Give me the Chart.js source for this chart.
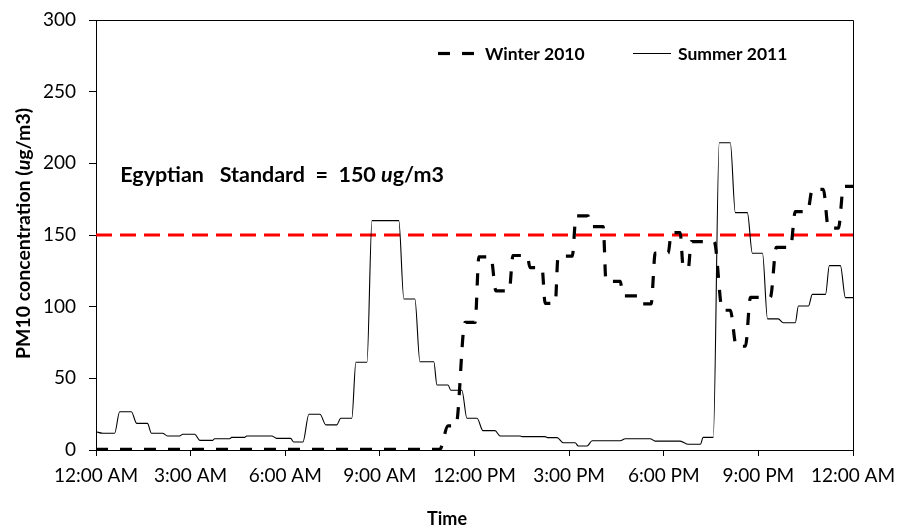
<!DOCTYPE html>
<html>
<head>
<meta charset="utf-8">
<script src="https://cdn.jsdelivr.net/npm/chart.js@4.4.1/dist/chart.umd.min.js"></script>
<style>
  html, body { margin: 0; padding: 0; background: #ffffff; }
  #wrap { width: 899px; height: 530px; position: relative; }
</style>
</head>
<body>
<div id="wrap"><canvas id="c" width="899" height="530"></canvas></div>
<script>
// ---- data ----
const xTickLabels = ['12:00 AM','3:00 AM','6:00 AM','9:00 AM','12:00 PM','3:00 PM','6:00 PM','9:00 PM','12:00 AM'];
const yTickValues = [0, 50, 100, 150, 200, 250, 300];

// hours since midnight
const winterHours = [0, 10.9, 11.16, 11.41, 11.70, 12.02, 12.14, 12.52, 12.68, 13.10, 13.22, 13.67, 13.76, 14.14,
  14.24, 14.56, 14.65, 15.10, 15.22, 15.60, 15.70, 16.08, 16.17, 16.62, 16.71, 17.16, 17.25, 17.60, 17.73, 18.14,
  18.24, 18.52, 18.62, 18.78, 18.87, 19.60, 19.86, 20.11, 20.30, 20.59, 20.75, 21.38, 21.57, 22.02, 22.17, 22.56,
  22.71, 23.06, 23.22, 23.54, 23.70, 24];
const winterValues = [0.5, 0.5, 16.8, 16.8, 89, 89, 134.7, 134.7, 111, 111, 135.7, 135.7, 127.2, 127.2,
  102.3, 102.3, 135.2, 135.2, 163.3, 163.3, 155.8, 155.8, 117.6, 117.6, 107.5, 107.5, 101.9, 101.9, 137.3, 137.3,
  151.7, 151.7, 127.2, 127.2, 145.4, 145.4, 97.5, 97.5, 72.4, 72.4, 106.5, 106.5, 141.4, 141.4, 166.3, 166.3,
  181.9, 181.9, 154.8, 154.8, 183.9, 183.9];

const summerHours = [0, 0.21, 0.59, 0.75, 1.12, 1.29, 1.63, 1.76, 2.11, 2.27, 2.65, 2.75, 3.13, 3.29, 3.70, 3.76, 4.24,
  4.30, 4.71, 4.78, 5.57, 5.73, 6.17, 6.27, 6.56, 6.75, 7.10, 7.29, 7.63, 7.76, 8.11, 8.24, 8.59, 8.75, 9.60, 9.76,
  10.11, 10.27, 10.71, 10.81, 11.16, 11.25, 11.60, 11.76, 12.08, 12.27, 12.65, 12.81, 13.44, 13.51, 14.24, 14.33,
  14.62, 14.81, 15.19, 15.29, 15.57, 15.73, 16.62, 16.78, 17.57, 17.73, 18.52, 18.78, 19.16, 19.25, 19.57, 19.76,
  20.11, 20.27, 20.65, 20.81, 21.13, 21.29, 21.63, 21.79, 22.17, 22.27, 22.59, 22.71, 23.13, 23.25, 23.60, 23.76, 24];
const summerValues = [12.7, 11.7, 11.7, 26.7, 26.7, 18.6, 18.6, 11.7, 11.7, 9.8, 9.8, 11, 11, 6.7, 6.7, 7.9, 7.9,
  8.8, 8.8, 9.8, 9.8, 8.1, 8.1, 5.6, 5.6, 24.9, 24.9, 17.5, 17.5, 22.1, 22.1, 61.2, 61.2, 160, 160, 105.4,
  105.4, 61.6, 61.6, 45.3, 45.3, 41.7, 41.7, 22.1, 22.1, 13.5, 13.5, 9.8, 9.8, 9.3, 9.3, 8.6,
  8.6, 5.1, 5.1, 2.8, 2.8, 6.5, 6.5, 7.9, 7.9, 6.2, 6.2, 4.0, 4.0, 8.8, 8.8, 214.4,
  214.4, 165.6, 165.6, 137.3, 137.3, 91.5, 91.5, 88.8, 88.8, 100.5, 100.5, 108.6, 108.6, 128.6, 128.6, 106.3, 106.3];

const standardHours = [0, 24];
const standardValues = [150, 150];

const seriesNames = ['Winter 2010', 'Summer 2011'];
const annotationText = [['Egyptian   Standard  =  150 ', false], ['u', true], ['g/m3', false]];
const yTitleText = [['PM10 concentration (', false], ['u', true], ['g/m3)', false]];
const xTitleText = 'Time';

// ---- helpers ----
const pts = (xs, ys) => xs.map((x, i) => ({ x: x, y: ys[i] }));
const FONT = 'Lato, "Open Sans", sans-serif';

function runsWidth(ctx, runs, size) {
  let w = 0;
  runs.forEach(([t, it]) => { ctx.font = (it ? 'italic ' : '') + 'bold ' + size + 'px ' + FONT; w += ctx.measureText(t).width; });
  return w;
}
function drawRuns(ctx, runs, x, y, size) {
  let cx = x;
  runs.forEach(([t, it]) => {
    ctx.font = (it ? 'italic ' : '') + 'bold ' + size + 'px ' + FONT;
    ctx.fillText(t, cx, y);
    cx += ctx.measureText(t).width;
  });
}

const overlay = {
  id: 'overlay',
  afterDraw(chart) {
    const { ctx, chartArea: a, scales } = chart;
    ctx.save();
    // frame top & right
    ctx.strokeStyle = '#000';
    ctx.lineWidth = 1;
    ctx.beginPath();
    ctx.moveTo(Math.round(a.left) + 0.5, Math.round(a.top) + 0.5);
    ctx.lineTo(Math.round(a.right) + 0.5, Math.round(a.top) + 0.5);
    ctx.lineTo(Math.round(a.right) + 0.5, Math.round(a.bottom) + 0.5);
    ctx.stroke();

    ctx.fillStyle = '#000';
    ctx.textBaseline = 'alphabetic';
    ctx.textAlign = 'left';

    // annotation text anchored to data coordinates
    const ax = scales.x.getPixelForValue(0.77);
    const ay = scales.y.getPixelForValue(187);
    drawRuns(ctx, annotationText, ax, ay, 21.5);

    // legend
    const ds = chart.data.datasets;
    const legendItems = [
      { d: ds[0], x0: 438, x1: 477, tx: 485 },
      { d: ds[1], x0: 633, x1: 671, tx: 678 }
    ];
    legendItems.forEach(it => {
      ctx.save();
      ctx.strokeStyle = it.d.borderColor;
      ctx.lineWidth = it.d.borderWidth;
      ctx.setLineDash(it.d.borderDash || []);
      ctx.beginPath();
      ctx.moveTo(it.x0, 53.5);
      ctx.lineTo(it.x1, 53.5);
      ctx.stroke();
      ctx.restore();
      ctx.font = 'bold 17.5px ' + FONT;
      ctx.fillText(it.d.label, it.tx, 59.5);
    });

    // y axis title (rotated)
    ctx.save();
    const yc = (a.top + a.bottom) / 2 - 1.5;
    ctx.translate(30, yc);
    ctx.rotate(-Math.PI / 2);
    const tw = runsWidth(ctx, yTitleText, 19.5);
    drawRuns(ctx, yTitleText, -tw / 2, 0, 19.5);
    ctx.restore();

    // x axis title
    ctx.font = 'bold 18px ' + FONT;
    ctx.textAlign = 'center';
    ctx.fillText(xTitleText, 447, 525);
    ctx.restore();
  }
};

new Chart(document.getElementById('c'), {
  type: 'line',
  data: {
    datasets: [
      {
        label: seriesNames[0],
        data: pts(winterHours, winterValues),
        borderColor: '#000000',
        borderWidth: 3.2,
        borderDash: [12, 12],
        pointRadius: 0,
        cubicInterpolationMode: 'monotone',
        fill: false
      },
      {
        label: seriesNames[1],
        data: pts(summerHours, summerValues),
        borderColor: '#000000',
        borderWidth: 1.1,
        pointRadius: 0,
        cubicInterpolationMode: 'monotone',
        fill: false
      },
      {
        label: 'standard',
        data: pts(standardHours, standardValues),
        borderColor: '#ff0000',
        borderWidth: 3,
        borderDash: [16, 8],
        pointRadius: 0,
        fill: false
      }
    ]
  },
  options: {
    responsive: false,
    animation: false,
    devicePixelRatio: 1,
    layout: { padding: { top: 20, right: 46, bottom: 0, left: 0 } },
    plugins: { legend: { display: false }, tooltip: { enabled: false }, title: { display: false } },
    scales: {
      x: {
        type: 'linear',
        min: 0, max: 24,
        afterFit: s => { s.height = 80; s.paddingLeft = 0; s.paddingRight = 0; },
        afterBuildTicks: s => { s.ticks = xTickLabels.map((_, i) => ({ value: i * 3 })); },
        ticks: {
          autoSkip: false, maxRotation: 0,
          callback: (v, i) => xTickLabels[i],
          color: '#000', padding: 8,
          font: { family: FONT, size: 19 }
        },
        grid: { drawOnChartArea: false, drawTicks: true, tickLength: 6, color: '#000' },
        border: { display: true, color: '#000', width: 1 }
      },
      y: {
        min: 0, max: 300,
        afterFit: s => { s.width = 96; s.paddingTop = 0; s.paddingBottom = 0; },
        afterBuildTicks: s => { s.ticks = yTickValues.map(v => ({ value: v })); },
        ticks: {
          color: '#000', padding: 13,
          font: { family: FONT, size: 19 }
        },
        grid: { drawOnChartArea: false, drawTicks: true, tickLength: 7, color: '#000' },
        border: { display: true, color: '#000', width: 1 }
      }
    }
  },
  plugins: [overlay]
});
</script>
</body>
</html>
